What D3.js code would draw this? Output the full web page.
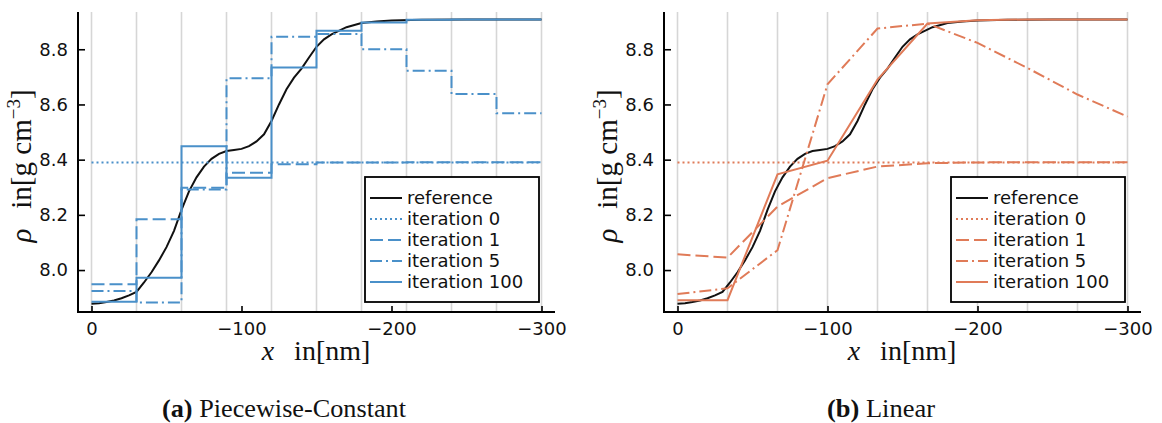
<!DOCTYPE html>
<html><head><meta charset="utf-8">
<script src="https://cdn.jsdelivr.net/npm/d3@7"></script>
<style>html,body{margin:0;padding:0;background:#fff;}svg{display:block;}
.serif{font-family:"Liberation Serif","Times New Roman",Tinos,Times,serif;}
</style>
</head><body>
<svg id="chart" width="1162" height="423"></svg>
<script>
// ---------- data ----------
const refX = [0,-5,-10,-15,-20,-25,-30,-35,-40,-45,-50,-55,-60,-65,-70,-75,-80,-85,-90,-95,-100,-105,-110,-115,-120,-125,-130,-135,-140,-145,-150,-155,-160,-170,-180,-190,-200,-220,-250,-300];
const refY = [7.878,7.880,7.884,7.890,7.898,7.908,7.921,7.955,7.992,8.035,8.083,8.142,8.218,8.285,8.336,8.375,8.403,8.421,8.431,8.435,8.439,8.449,8.466,8.492,8.540,8.600,8.655,8.697,8.730,8.770,8.809,8.836,8.854,8.880,8.895,8.901,8.904,8.907,8.908,8.908];

// piecewise-constant: cell edges and cell values
const pcEdges = [0,-30,-60,-90,-120,-150,-180,-210,-240,-270,-300];
const pcIter0   = [8.390,8.390,8.390,8.390,8.390,8.390,8.390,8.390,8.390,8.390];
const pcIter1   = [7.949,8.184,8.298,8.353,8.383,8.390,8.390,8.391,8.391,8.391];
const pcIter5   = [7.924,7.882,8.292,8.695,8.845,8.855,8.800,8.722,8.638,8.568];
const pcIter100 = [7.885,7.972,8.449,8.334,8.734,8.867,8.897,8.907,8.908,8.908];

// linear: node positions and node values
const linNodes = [0,-33.333,-66.667,-100,-133.333,-166.667,-200,-233.333,-266.667,-300];
const linIter0   = [8.390,8.390,8.390,8.390,8.390,8.390,8.390,8.390,8.390,8.390];
const linIter1   = [8.057,8.045,8.230,8.333,8.375,8.387,8.390,8.391,8.391,8.391];
const linIter5   = [7.913,7.934,8.072,8.673,8.875,8.893,8.823,8.732,8.636,8.556];
const linIter100 = [7.891,7.891,8.347,8.396,8.690,8.893,8.905,8.908,8.908,8.908];

const xTicks = [0,-100,-200,-300];
const yTicks = [8.0,8.2,8.4,8.6,8.8];
const legendLabels = ["reference","iteration 0","iteration 1","iteration 5","iteration 100"];
const captions = [["(a)"," Piecewise-Constant"],["(b)"," Linear"]];

// ---------- styles ----------
const BLUE = "#4a90c9", ORANGE = "#e07b58";
const dashes = [null, "2,3", "13,5", "12,4,2,4", null];

const svg = d3.select("#chart");
const y = d3.scaleLinear().domain([7.848, 8.935]).range([312, 12]);

function panel(opt) {
  const x = d3.scaleLinear().domain([9, -309]).range([opt.left, opt.left + 477]);
  const g = svg.append("g");
  // grid
  g.selectAll("line.grid").data(opt.grid).join("line")
    .attr("x1", d => x(d)).attr("x2", d => x(d))
    .attr("y1", 12).attr("y2", 312)
    .attr("stroke", "#d6d6d6").attr("stroke-width", 1.6);

  const lineGen = d3.line().x(d => x(d[0])).y(d => y(d[1]));
  // reference
  g.append("path").attr("d", lineGen(refX.map((v, i) => [v, refY[i]])))
    .attr("fill", "none").attr("stroke", "#111").attr("stroke-width", 2);
  opt.series.forEach((s, k) => {
    const gen = opt.step ? d3.line().x(d => x(d[0])).y(d => y(d[1])).curve(d3.curveStepAfter) : lineGen;
    let pts = s.map((v, i) => [opt.grid[i], v]);
    if (opt.step) pts.push([opt.grid[opt.grid.length - 1], s[s.length - 1]]);
    g.append("path").attr("d", gen(pts))
      .attr("fill", "none").attr("stroke", opt.color)
      .attr("stroke-width", 2)
      .attr("stroke-dasharray", dashes[k + 1]);
  });

  // axes
  const xa = g.append("g").attr("transform", "translate(0,312)")
    .call(d3.axisBottom(x).tickValues(xTicks).tickSize(-6).tickPadding(10)
      .tickFormat(d => d === 0 ? "0" : "\u2212" + Math.abs(d)));
  const ya = g.append("g").attr("transform", `translate(${opt.left},0)`)
    .call(d3.axisLeft(y).tickValues(yTicks).tickSize(-7).tickPadding(10).tickFormat(d3.format(".1f")));
  [xa, ya].forEach(a => {
    a.select(".domain").remove();
    a.selectAll(".tick line").attr("stroke", "#000").attr("stroke-width", 1.6);
    a.selectAll(".tick text").attr("fill", "#111").style("font-family", "DejaVu Sans").style("font-size", "18px");
  });
  g.append("line").attr("x1", opt.left).attr("x2", opt.left).attr("y1", 12).attr("y2", 313)
    .attr("stroke", "#000").attr("stroke-width", 2);
  g.append("line").attr("x1", opt.left - 1).attr("x2", opt.left + 477).attr("y1", 312).attr("y2", 312)
    .attr("stroke", "#000").attr("stroke-width", 2);

  // axis labels
  const xl = g.append("text").attr("class", "serif").attr("x", opt.left + 238).attr("y", 360)
    .attr("text-anchor", "middle").style("font-size", "28px").attr("fill", "#111");
  xl.append("tspan").style("font-style", "italic").text("x");
  xl.append("tspan").attr("dx", 20).text("in[nm]");

  const yl = g.append("text").attr("class", "serif").attr("transform", `translate(${opt.left - 47},166) rotate(-90)`)
    .attr("text-anchor", "middle").style("font-size", "29px").attr("fill", "#111");
  yl.append("tspan").style("font-style", "italic").text("\u03C1");
  yl.append("tspan").attr("dx", 20).text("in[g cm");
  yl.append("tspan").attr("dy", -11).style("font-size", "19px").text("\u22123");
  yl.append("tspan").attr("dy", 11).text("]");

  // legend
  const lx = opt.left + 287, ly = 177;
  g.append("rect").attr("x", lx).attr("y", ly).attr("width", 174).attr("height", 125)
    .attr("fill", "#fff").attr("stroke", "#000").attr("stroke-width", 1.8);
  legendLabels.forEach((lab, i) => {
    const yy = 198 + i * 21;
    g.append("line").attr("x1", lx + 5).attr("x2", lx + 37).attr("y1", yy).attr("y2", yy)
      .attr("stroke", i === 0 ? "#111" : opt.color).attr("stroke-width", 2)
      .attr("stroke-dasharray", dashes[i]);
    g.append("text").attr("x", lx + 42).attr("y", yy).attr("dy", "0.35em")
      .style("font-family", "DejaVu Sans").style("font-size", "18px").attr("fill", "#111").text(lab);
  });

  // caption
  const cap = svg.append("text").attr("class", "serif").attr("x", opt.capX).attr("y", 417).attr("text-anchor", "middle")
    .style("font-size", "26px").attr("fill", "#111")
    .attr("textLength", opt.capLen).attr("lengthAdjust", "spacingAndGlyphs");
  cap.append("tspan").style("font-weight", "bold").text(opt.caption[0]);
  cap.append("tspan").text(opt.caption[1]);
}

panel({left: 78, grid: pcEdges, step: true, color: BLUE,
  series: [pcIter0, pcIter1, pcIter5, pcIter100], caption: captions[0], capX: 284, capLen: 244});
panel({left: 664, grid: linNodes, step: false, color: ORANGE,
  series: [linIter0, linIter1, linIter5, linIter100], caption: captions[1], capX: 881, capLen: 108});
</script>
</body></html>
